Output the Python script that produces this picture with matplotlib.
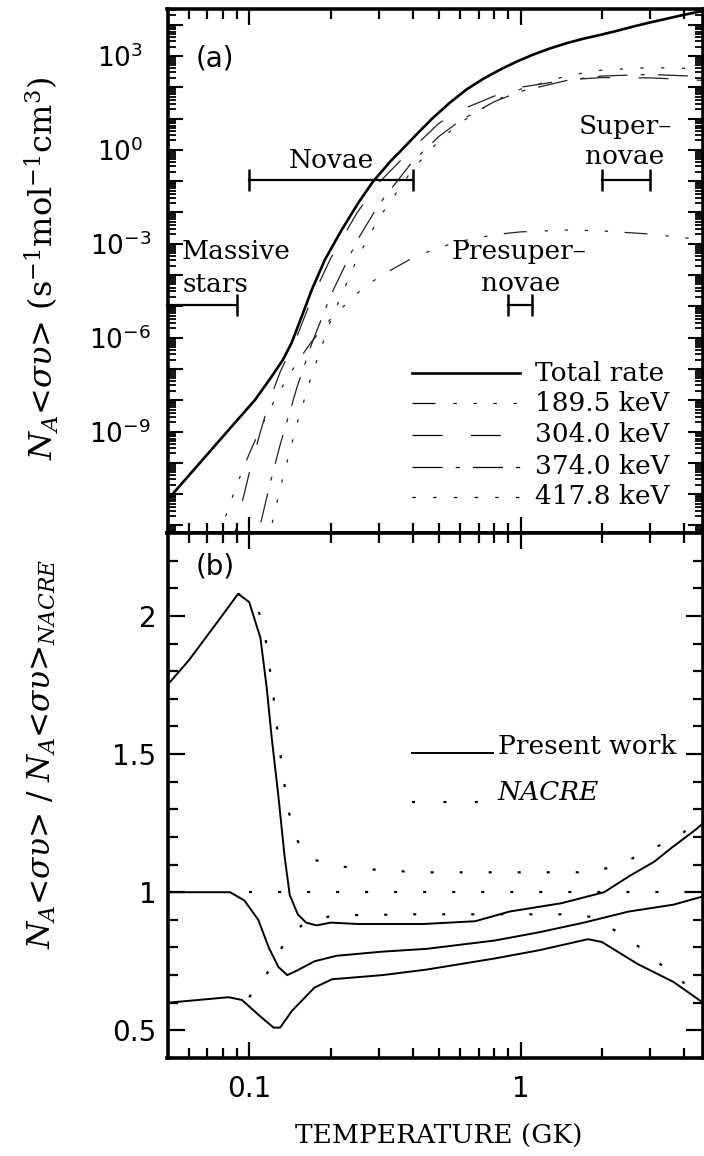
import numpy as np
import matplotlib
matplotlib.use("Agg")
import matplotlib.pyplot as plt
from matplotlib.ticker import FixedLocator, FixedFormatter, NullFormatter, FuncFormatter
import matplotlib.transforms as mtransforms

plt.rcParams['mathtext.fontset'] = 'dejavuserif'
plt.rcParams['lines.scale_dashes'] = False

# ---------------- Panel (a) data : log10 of rate ----------------
T_total = [0.05, 0.0649, 0.0861, 0.105, 0.121, 0.133, 0.143, 0.156, 0.170, 0.190,
           0.219, 0.252, 0.286, 0.335, 0.359, 0.414, 0.476, 0.549, 0.632, 0.728,
           0.839, 0.967, 1.11, 1.282, 1.48, 1.701, 1.96, 2.258, 2.60, 2.995,
           3.45, 3.973, 4.58, 4.70]
lograte_total = [-11.18, -10.06, -8.84, -7.99, -7.24, -6.71, -6.18, -5.33, -4.47, -3.51,
                 -2.56, -1.70, -1.01, -0.32, -0.06, 0.50, 1.03, 1.51, 1.93, 2.27,
                 2.56, 2.82, 3.04, 3.24, 3.41, 3.55, 3.67, 3.80, 3.94, 4.07,
                 4.19, 4.31, 4.42, 4.45]

T_res = [0.07, 0.08, 0.09, 0.10, 0.11, 0.12, 0.13, 0.15, 0.17, 0.20, 0.25, 0.30,
         0.40, 0.50, 0.60, 0.80, 1.0, 1.5, 2.0, 3.0, 4.7]
lograte_189 = [-13.57, -11.95, -10.70, -9.71, -8.90, -8.24, -7.68, -6.79, -6.12, -5.39,
               -4.58, -4.06, -3.45, -3.12, -2.92, -2.71, -2.62, -2.56, -2.59, -2.69, -2.87]
lograte_304 = [-16.7, -14.01, -11.96, -10.33, -9.00, -7.90, -7.10, -5.95, -4.75, -3.45,
               -2.00, -1.05, 0.05, 0.85, 1.27, 1.72, 2.00, 2.24, 2.31, 2.30, 2.22]
lograte_374 = [-21.4, -18.2, -15.6, -13.6, -11.95, -10.58, -9.42, -7.58, -6.19, -4.63,
               -2.89, -1.75, -0.37, 0.43, 0.94, 1.54, 1.87, 2.23, 2.36, 2.41, 2.34]
lograte_418 = [-24.3, -20.6, -17.8, -15.5, -13.66, -12.12, -10.82, -8.75, -7.19, -5.43,
               -3.47, -2.19, -0.62, 0.29, 0.87, 1.56, 1.94, 2.38, 2.55, 2.63, 2.59]

res_labels = ['189.5 keV', '304.0 keV', '374.0 keV', '417.8 keV']

# ---------------- Panel (b) data : ratios ----------------
T_hi = [0.05, 0.06, 0.074, 0.085, 0.091, 0.10, 0.11, 0.116, 0.121, 0.128, 0.135, 0.141,
        0.151, 0.162, 0.177, 0.20, 0.25, 0.44, 0.68, 0.91, 1.41, 2.03, 2.53, 3.10, 3.59,
        4.46, 4.70]
ratio_hi = [1.75, 1.84, 1.96, 2.04, 2.08, 2.05, 1.92, 1.74, 1.56, 1.35, 1.13, 0.99,
            0.92, 0.89, 0.88, 0.89, 0.885, 0.885, 0.895, 0.93, 0.96, 1.00, 1.06, 1.11, 1.16,
            1.23, 1.25]
T_mid = [0.05, 0.085, 0.096, 0.108, 0.118, 0.128, 0.138, 0.149, 0.174, 0.21, 0.31, 0.45,
         0.80, 1.17, 1.71, 2.50, 3.66, 4.70]
ratio_mid = [1.0, 1.0, 0.97, 0.90, 0.80, 0.73, 0.70, 0.715, 0.75, 0.77, 0.785, 0.795,
             0.825, 0.855, 0.89, 0.93, 0.955, 0.985]
T_lo = [0.05, 0.084, 0.094, 0.11, 0.123, 0.130, 0.1435, 0.174, 0.202, 0.31, 0.45, 0.80,
        1.17, 1.77, 1.99, 2.70, 3.66, 4.70]
ratio_lo = [0.60, 0.62, 0.61, 0.55, 0.51, 0.51, 0.57, 0.655, 0.685, 0.70, 0.72, 0.76,
            0.79, 0.83, 0.82, 0.74, 0.675, 0.60]

T_nacre_hi = [0.091, 0.1065, 0.1136, 0.1179, 0.122, 0.1254, 0.129, 0.1335, 0.138, 0.1453,
              0.1618, 0.2042, 0.258, 0.3313, 0.4256, 1.831, 2.312, 2.88, 3.585, 4.463, 4.70]
ratio_nacre_hi = [2.08, 2.04, 1.95, 1.84, 1.735, 1.633, 1.53, 1.42, 1.32, 1.217,
                  1.127, 1.097, 1.085, 1.078, 1.072, 1.072, 1.10, 1.145, 1.19, 1.247, 1.26]
T_nacre_mid = [0.10, 4.70]
ratio_nacre_mid = [1.0, 1.0]
T_nacre_lo = [0.10, 0.106, 0.1209, 0.136, 0.16, 0.204, 0.40, 1.44, 1.857, 2.279, 2.752,
              3.316, 4.025, 4.70]
ratio_nacre_lo = [0.62, 0.652, 0.729, 0.825, 0.89, 0.916, 0.92, 0.92, 0.91, 0.855, 0.80,
                  0.735, 0.669, 0.62]

# ---------------- figure ----------------
W, H = 704, 1156
fig = plt.figure(figsize=(W / 100, H / 100), dpi=100)


def box(left, top, right, bottom):
    return [left / W, 1 - bottom / H, (right - left) / W, (bottom - top) / H]


ax_a = fig.add_axes(box(167.5, 9, 703, 533))
ax_b = fig.add_axes(box(167.5, 533, 703, 1058))

SERIF = 'DejaVu Serif'
SANS = 'DejaVu Sans'
TXT = 19

for ax in (ax_a, ax_b):
    ax.set_xscale('log')
    ax.set_xlim(0.05, 4.696)
    for s in ax.spines.values():
        s.set_linewidth(2.6)
    ax.xaxis.set_major_locator(FixedLocator([0.1, 1.0]))
    ax.xaxis.set_minor_locator(FixedLocator([0.06, 0.07, 0.08, 0.09, 0.2, 0.3, 0.4, 0.5,
                                             0.6, 0.7, 0.8, 0.9, 2, 3, 4]))
    ax.xaxis.set_minor_formatter(NullFormatter())
    ax.tick_params(axis='x', which='major', direction='in', top=True, bottom=True,
                   length=11.5, width=1.6)
    ax.tick_params(axis='x', which='minor', direction='in', top=True, bottom=True,
                   length=7, width=1.6)

# ---- panel a ----
ax_a.set_yscale('log')
ax_a.set_ylim(10 ** -12.24, 10 ** 4.5)
ax_a.xaxis.set_major_formatter(NullFormatter())
dec = list(range(-12, 5))
ax_a.yaxis.set_major_locator(FixedLocator([10.0 ** k for k in dec]))


def ylab_a(v, p):
    k = int(round(np.log10(v)))
    if k % 3 == 0 and k >= -9:
        return r'$\mathsf{10^{%d}}$' % k
    return ''


ax_a.yaxis.set_major_formatter(FuncFormatter(ylab_a))
minors = [m * 10.0 ** k for k in range(-13, 5) for m in range(2, 10)]
ax_a.yaxis.set_minor_locator(FixedLocator(minors))
ax_a.yaxis.set_minor_formatter(NullFormatter())
ax_a.tick_params(axis='y', which='major', direction='in', left=True, right=True,
                 length=11, width=1.5, pad=34, labelsize=19)
ax_a.tick_params(axis='y', which='minor', direction='in', left=True, right=True,
                 length=6, width=1.3)
for lab in ax_a.get_yticklabels():
    lab.set_horizontalalignment('center')

ax_a.plot(T_total, np.power(10.0, lograte_total), color='black', lw=1.9, solid_capstyle='butt')
styles = [(0, (16.5, 13, 2.4, 12, 2.4, 12, 2.4, 12, 2.4, 12)),
          (0, (21.6, 20.4)),
          (0, (21.6, 9.5, 2.9, 9.5)),
          (0, (2.4, 12.5))]
for lr, ls in zip([lograte_189, lograte_304, lograte_374, lograte_418], styles):
    ax_a.plot(T_res, np.power(10.0, lr), color='#222222', lw=0.9, linestyle=ls)

# annotation bars
bl = mtransforms.blended_transform_factory(ax_a.transData, ax_a.transAxes)
ya_bar_top = (533 - 180) / 524
ya_bar_low = (533 - 305) / 524
for (t1, t2, yb, caps) in [(0.1, 0.4, ya_bar_top, [0.1, 0.4]),
                           (2.0, 3.0, ya_bar_top, [2.0, 3.0]),
                           (0.9, 1.1, ya_bar_low, [0.9, 1.1]),
                           (0.05, 0.09, ya_bar_low, [0.09])]:
    ax_a.plot([t1, t2], [yb, yb], color='black', lw=1.6, transform=bl, clip_on=False)
    ax_a.plot(caps, [yb] * len(caps), color='black', lw=0, marker='|', markersize=16,
              markeredgewidth=1.8, transform=bl)


def atext(ax, x, y, s, ha='left', **kw):
    ax.text(x, y, s, transform=ax.transAxes, ha=ha, va='center', **kw)


def fx(px):
    return (px - 167.5) / 535.5


def fya(py):
    return (533 - py) / 524


def fyb(py):
    return (1058 - py) / 525


atext(ax_a, fx(182), fya(251.7), 'Massive', family=SERIF, size=TXT)
atext(ax_a, fx(182), fya(285), 'stars', family=SERIF, size=TXT)
atext(ax_a, fx(331.5), fya(160), 'Novae', ha='center', family=SERIF, size=TXT)
atext(ax_a, fx(625), fya(126.7), 'Super\u2013', ha='center', family=SERIF, size=TXT)
atext(ax_a, fx(625), fya(156.7), 'novae', ha='center', family=SERIF, size=TXT)
atext(ax_a, fx(519), fya(251.7), 'Presuper\u2013', ha='center', family=SERIF, size=TXT)
atext(ax_a, fx(521), fya(283.3), 'novae', ha='center', family=SERIF, size=TXT)
atext(ax_a, fx(196), fya(59), '(a)', family=SANS, size=20)

# legend a
leg_rows = [373.3, 403.3, 435, 466.7, 496.7]
leg_labels = ['Total rate'] + res_labels
leg_styles = ['-'] + styles
leg_lw = [1.9] + [0.9] * 4
for py, lab, ls, lw in zip(leg_rows, leg_labels, leg_styles, leg_lw):
    ax_a.plot([fx(411.7), fx(520)], [fya(py), fya(py)], transform=ax_a.transAxes,
              color='black', lw=lw, linestyle=ls)
    atext(ax_a, fx(535), fya(py), lab, family=SERIF, size=TXT)

# ---- panel b ----
ax_b.set_ylim(0.4, 2.30)
ax_b.xaxis.set_major_formatter(FixedFormatter(['0.1', '1']))
ax_b.yaxis.set_major_locator(FixedLocator([0.5, 1.0, 1.5, 2.0]))
ax_b.yaxis.set_major_formatter(FixedFormatter(['0.5', '1', '1.5', '2']))
ax_b.yaxis.set_minor_locator(FixedLocator([0.4 + 0.1 * i for i in range(20)]))
ax_b.tick_params(axis='y', which='major', direction='in', left=True, right=True,
                 length=12, width=1.6, pad=8, labelsize=20)
ax_b.tick_params(axis='y', which='minor', direction='in', left=True, right=True,
                 length=7, width=1.6)
ax_b.tick_params(axis='x', which='major', labelsize=20, pad=12)
for lab in ax_b.get_xticklabels() + ax_b.get_yticklabels():
    lab.set_family(SANS)

dot = (0, (2.2, 18.7))
for t, r in [(T_hi, ratio_hi), (T_mid, ratio_mid), (T_lo, ratio_lo)]:
    ax_b.plot(t, r, color='black', lw=1.4)
for t, r in [(T_nacre_hi, ratio_nacre_hi), (T_nacre_mid, ratio_nacre_mid),
             (T_nacre_lo, ratio_nacre_lo)]:
    ax_b.plot(t, r, color='black', lw=1.6, linestyle=dot)

atext(ax_b, fx(196), fyb(567), '(b)', family=SANS, size=20)
ax_b.plot([fx(411.7), fx(493)], [fyb(753.3)] * 2, transform=ax_b.transAxes,
          color='black', lw=1.4)
atext(ax_b, fx(498), fyb(746.7), 'Present work', family=SERIF, size=TXT)
ax_b.plot([fx(411.7), fx(480)], [fyb(801.7)] * 2, transform=ax_b.transAxes,
          color='black', lw=1.6, linestyle=(0, (2.2, 20.4)))
atext(ax_b, fx(498), fyb(793), 'NACRE', family=SERIF, size=TXT, style='italic')

# axis labels
fig.text(42 / W, 1 - 268 / H,
         r'$N_A$<$\sigma\upsilon$> (s$^{-1}$mol$^{-1}$cm$^{3}$)',
         rotation=90, ha='center', va='center', family=SERIF, size=23)
fig.text(42 / W, 1 - 754 / H,
         r'$N_A$<$\sigma\upsilon$> / $N_A$<$\sigma\upsilon$>$_{NACRE}$',
         rotation=90, ha='center', va='center', family=SERIF, size=22.5)
fig.text(439 / W, 1 - 1136 / H, 'TEMPERATURE (GK)', ha='center', va='center',
         family=SERIF, size=TXT)

fig.savefig('out.png', dpi=100)
